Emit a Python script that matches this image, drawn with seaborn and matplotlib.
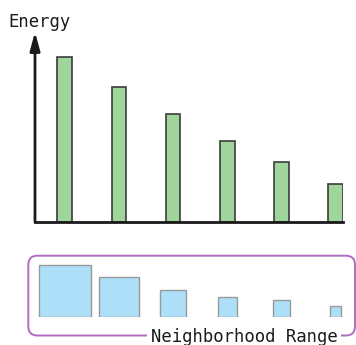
import matplotlib
matplotlib.use("Agg")
import matplotlib.pyplot as plt
from matplotlib.patches import FancyBboxPatch
from matplotlib.transforms import IdentityTransform
import seaborn as sns
import pandas as pd

# ---- data ----
categories = ["r1", "r2", "r3", "r4", "r5", "r6"]
energy = [165, 135, 108, 81, 60, 38]
neighborhood_size = [52, 40, 26.5, 19.5, 17, 10.5]
y_label = "Energy"
x_label = "Neighborhood Range"

sns.set_theme(style="white")
plt.rcParams["font.family"] = ["DejaVu Sans Mono"]

W, H = 356, 345
fig = plt.figure(figsize=(W / 100, H / 100), dpi=100)

def fr(x0, y_top, x1, y_bot):
    return [x0 / W, 1 - y_bot / H, (x1 - x0) / W, (y_bot - y_top) / H]

ax = fig.add_axes(fr(35, 32, 343, 222))
df = pd.DataFrame({"cat": categories, "energy": energy})
sns.barplot(data=df, x="cat", y="energy", ax=ax, width=0.268,
            color="#9fd49b", saturation=1, edgecolor="#3c3c3c", linewidth=1.2)
xlim = (-0.545, 5.134)
ax.set_xlim(*xlim)
ax.set_ylim(0, 190)
ax.set_xticks([]); ax.set_yticks([])
ax.set_xlabel(""); ax.set_ylabel("")
for s in ["top", "right", "left"]:
    ax.spines[s].set_visible(False)
ax.spines["bottom"].set_color("#1a1a1a")
ax.spines["bottom"].set_linewidth(2)
ax.annotate("", xy=(0, 1.0), xytext=(0, 0), xycoords="axes fraction",
            arrowprops=dict(arrowstyle="-|>,head_length=0.55,head_width=0.15",
                            mutation_scale=20, color="#1a1a1a", lw=2,
                            shrinkA=0, shrinkB=0), annotation_clip=False)
fig.text(8 / W, 1 - 27 / H, y_label, ha="left", va="baseline",
         fontsize=12.4, color="#1a1a1a")

# ---- squares ----
ax2 = fig.add_axes(fr(35, 256.7, 343, 316.7))
ax2.set_xlim(*xlim)
ax2.set_ylim(0, 60)
px_per_unit = 308 / (xlim[1] - xlim[0])
widths = [s / px_per_unit for s in neighborhood_size]
ax2.bar(range(len(categories)), neighborhood_size, width=widths,
        color="#ade0f8", edgecolor="#999999", linewidth=1.0)
ax2.axis("off")

box = FancyBboxPatch((28.3, H - 335.5), 355 - 28.3, 335.5 - 255.7,
                     boxstyle="round,pad=0,rounding_size=9",
                     transform=IdentityTransform(), fill=False,
                     edgecolor="#b06cbf", linewidth=1.4)
fig.patches.append(box)
fig.text(150.7 / W, 1 - 342.3 / H, x_label, ha="left", va="baseline",
         fontsize=12.4, color="#1a1a1a",
         bbox=dict(facecolor="white", edgecolor="none", pad=2.5))

fig.savefig("out.png", dpi=100)
